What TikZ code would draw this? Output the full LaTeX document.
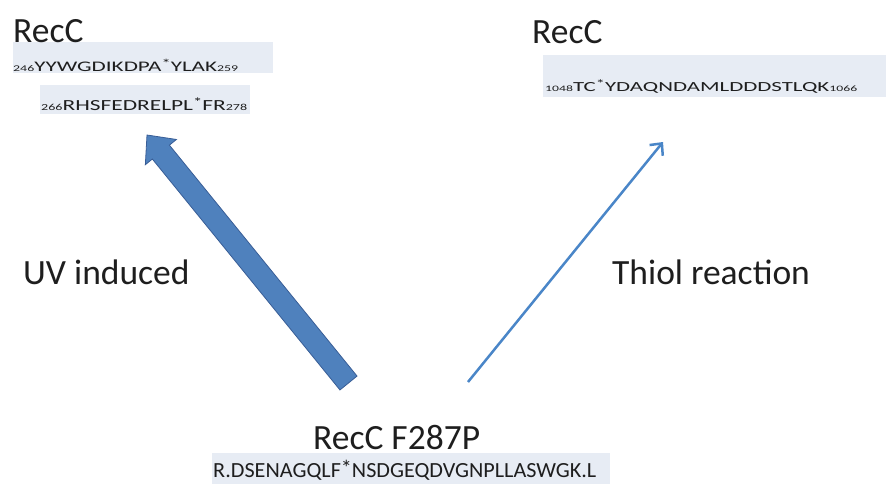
\documentclass[tikz,border=0pt]{standalone}
\usepackage{fontspec}
\usepackage{graphicx}
\setmainfont{Carlito}
\usetikzlibrary{arrows.meta,calc}
\definecolor{txt}{RGB}{30,30,30}
\definecolor{bandc}{RGB}{231,236,244}
\definecolor{bigfill}{RGB}{79,129,189}
\definecolor{bigline}{RGB}{56,93,150}
\definecolor{thinblue}{RGB}{74,134,200}
\newcommand\seqbox[3]{\resizebox{#1}{#2}{\fontsize{10}{12}\selectfont #3}}
\newcommand\smallnum[1]{{\fontsize{6}{7}\selectfont #1}}
\newcommand\hiast{\smash{\raisebox{0.22em}{\fontsize{8}{9}\selectfont *}}}
\tikzset{
  head/.style={font=\fontsize{35.5}{40}\selectfont, text=txt, inner sep=0pt, anchor=base west},
  seqtxt/.style={text=txt, inner sep=0pt, anchor=base west},
  band/.style={fill=bandc, draw=none},
}
\begin{document}
\begin{tikzpicture}[x=1pt,y=-1pt]
\useasboundingbox[fill=white] (0,0) rectangle (886,485);
% background bands
\fill[band] (13,42) rectangle (273,73);
\fill[band] (40,85) rectangle (250,114);
\fill[band] (543,55) rectangle (886,97);
\fill[band] (212,453) rectangle (610,484);
% headings
\node[head] (recL) at (13,42) {RecC};
\node[head] (recR) at (532,43) {RecC};
\node[head] (uv) at (23,284) {UV induced};
\node[head] (thiol) at (612,284) {Thiol reaction};
\node[head] (mut) at (313,449) {RecC F287P};
% sequences
\node[seqtxt] (s1) at (13,71) {\seqbox{225pt}{9.5pt}{\smallnum{246}YYWGDIKDPA\hiast YLAK\smallnum{259}}};
\node[seqtxt] (s2) at (41,110) {\seqbox{206pt}{10pt}{\smallnum{266}RHSFEDRELPL\hiast FR\smallnum{278}}};
\node[seqtxt] (s3) at (545,91) {\seqbox{312pt}{9pt}{\smallnum{1048}TC\hiast YDAQNDAMLDDDSTLQK\smallnum{1066}}};
\node[seqtxt] (s4) at (213,477) {\seqbox{383pt}{14pt}{R.DSENAGQLF\smash{\raisebox{0.08em}{*}}NSDGEQDVGNPLLASWGK.L}};
% big arrow (UV induced)
\coordinate (bt) at (348.5,383);
\coordinate (bp) at (147,135);
\coordinate (bh) at ($(bp)!22pt!(bt)$);
\filldraw[fill=bigfill, draw=bigline, line width=0.8pt, line join=miter]
  ($(bt)!11pt!90:(bp)$) -- ($(bh)!11pt!-90:(bt)$) -- ($(bh)!20pt!-90:(bt)$) -- (bp)
  -- ($(bh)!20pt!90:(bt)$) -- ($(bh)!11pt!90:(bt)$) -- ($(bt)!11pt!-90:(bp)$) -- cycle;
% thin arrow (Thiol reaction)
\coordinate (tt) at (468,382);
\coordinate (tp) at (663,142);
\draw[draw=thinblue, line width=2.5pt, -{Straight Barb[length=9pt,width=17pt,line width=2.5pt]}] (tt) -- (tp);
\end{tikzpicture}
\end{document}
